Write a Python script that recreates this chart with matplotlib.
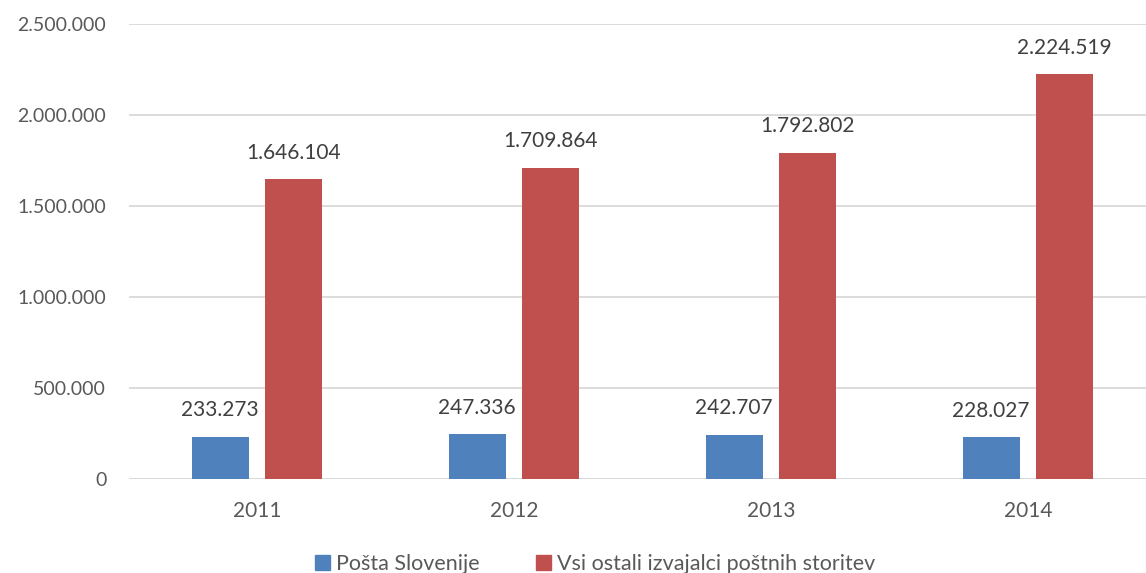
import matplotlib
matplotlib.use('Agg')
import matplotlib.pyplot as plt
import numpy as np
from matplotlib.patches import Patch

plt.rcParams['font.family'] = ['Lato', 'DejaVu Sans']

years = ['2011', '2012', '2013', '2014']
posta = [233273, 247336, 242707, 228027]
ostali = [1646104, 1709864, 1792802, 2224519]
series_names = ['Pošta Slovenije', 'Vsi ostali izvajalci poštnih storitev']
colors = ['#4F81BD', '#C0504D']
text_col = '#595959'


def fmt(v):
    # pika kot ločilo tisočic
    return f"{v:,}".replace(",", ".")


fig = plt.figure(figsize=(11.46, 5.73), dpi=100)
ax = fig.add_axes([128.5 / 1146, 94 / 573, 1028 / 1146, 455 / 573])

x = np.arange(len(years))
w = 0.222
off = 0.143
b1 = ax.bar(x - off, posta, w, color=colors[0], zorder=3)
b2 = ax.bar(x + off, ostali, w, color=colors[1], zorder=3)

for bars, vals in ((b1, posta), (b2, ostali)):
    for r, v in zip(bars, vals):
        ax.annotate(fmt(v), (r.get_x() + r.get_width() / 2, v),
                    xytext=(0, 19), textcoords='offset points',
                    ha='center', va='center', fontsize=15, color='#404040')

ax.set_xlim(-0.5, 3.5)
ax.set_ylim(0, 2500000)
yt = np.arange(0, 2500001, 500000)
ax.set_yticks(yt)
ax.set_yticklabels([fmt(int(v)) for v in yt])
ax.set_xticks(x)
ax.set_xticklabels(years)
ax.tick_params(axis='both', length=0, labelsize=14, colors=text_col)
ax.tick_params(axis='x', labelsize=15, pad=16)
ax.tick_params(axis='y', pad=16)
ax.grid(axis='y', color='#D9D9D9', linewidth=1.3, zorder=0)
for s in ax.spines.values():
    s.set_visible(False)
ax.axhline(0, color='#D9D9D9', linewidth=1.3, zorder=2)

handles = [Patch(color=c, label=n) for c, n in zip(colors, series_names)]
fig.legend(handles=handles, loc='center', bbox_to_anchor=(595 / 1146, 9 / 573),
           ncol=2, frameon=False, fontsize=15.5, labelcolor=text_col,
           handlelength=0.7, handleheight=0.7, handletextpad=0.3, columnspacing=2.6)

fig.savefig('out.png', dpi=100)
